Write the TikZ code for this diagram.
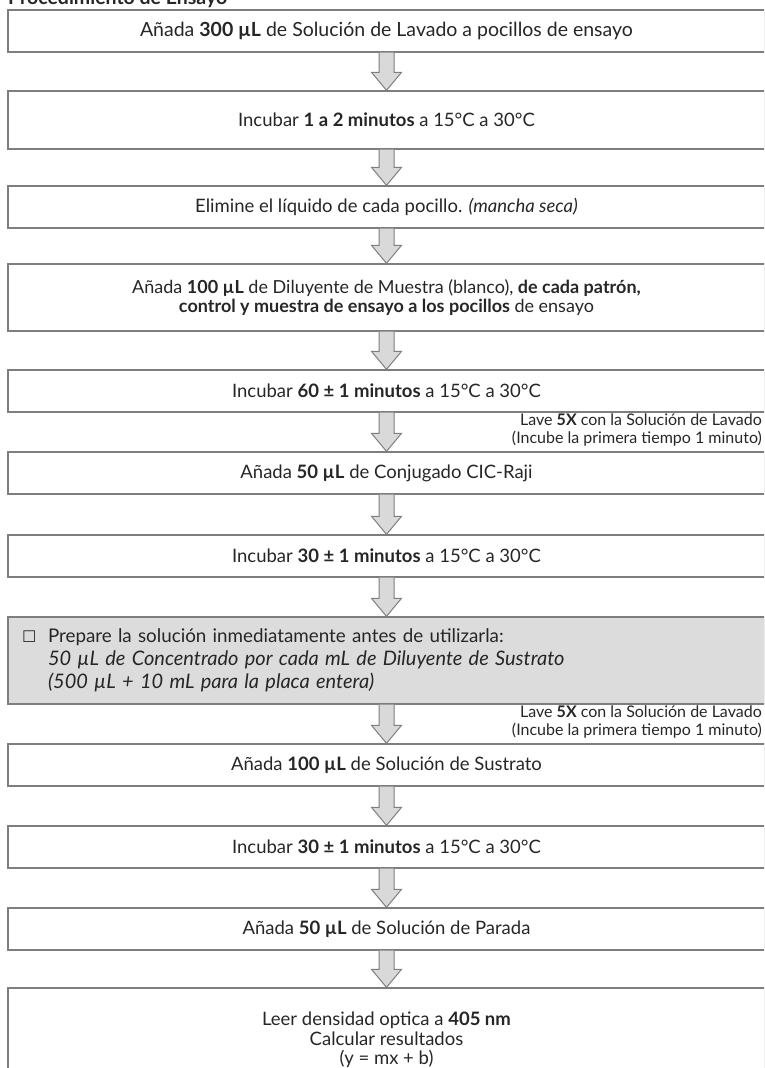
\documentclass[tikz,border=0pt]{standalone}
\usepackage{fontspec}
\setmainfont{Lato}
\newfontfamily\boxsym{DejaVu Sans}
\usetikzlibrary{calc}
\definecolor{ink}{HTML}{262626}
\definecolor{edgegray}{HTML}{7E7E7E}
\definecolor{arrowfill}{HTML}{D9D9D9}
\definecolor{notefill}{HTML}{DCDCDC}
\begin{document}
\begin{tikzpicture}[x=1pt,y=-1pt,
  stepbox/.style={draw=edgegray,line width=1.3pt,rectangle,minimum width=757pt,
    inner sep=0pt,align=center,text=ink,font=\fontsize{18.5}{19.5}\selectfont},
  notebox/.style={stepbox,fill=notefill,align=left,text width=729pt,inner xsep=14pt},
  sidenote/.style={anchor=north east,inner sep=0pt,align=right,text=ink,
    font=\fontsize{16}{18}\selectfont},
  flowarrow/.style={draw=edgegray,fill=arrowfill,line width=1pt,line join=miter}]
\clip (0,0) rectangle (764,1068);
\node[anchor=base west,inner sep=0pt,text=ink,font=\fontsize{19.5}{22}\selectfont\bfseries] (title) at (8,5) {Procedimiento de Ensayo};

\node[stepbox,minimum height=42pt,font=\fontsize{19.5}{21}\selectfont] (b1) at (386.5,31) {Añada \textbf{300 µL} de Solución de Lavado a pocillos de ensayo};
\node[stepbox,minimum height=58pt] (b2) at (386.5,120) {Incubar \textbf{1 a 2 minutos} a 15°C a 30°C};
\node[stepbox,minimum height=42pt] (b3) at (386.5,207) {Elimine el líquido de cada pocillo. \textit{(mancha seca)}};
\node[stepbox,minimum height=67pt,font=\fontsize{18}{19.5}\selectfont] (b4) at (386.5,297.5) {Añada \textbf{100 µL} de Diluyente de Muestra (blanco), \textbf{de cada patrón,}\\
  \textbf{control y muestra de ensayo a los pocillos} de ensayo};
\node[stepbox,minimum height=42pt] (b5) at (386.5,391) {Incubar \textbf{60 ± 1 minutos} a 15°C a 30°C};
\node[stepbox,minimum height=42pt] (b6) at (386.5,473) {Añada \textbf{50 µL} de Conjugado CIC-Raji};
\node[stepbox,minimum height=42pt] (b7) at (386.5,556) {Incubar \textbf{30 ± 1 minutos} a 15°C a 30°C};
\node[notebox,minimum height=87pt,font=\fontsize{18.8}{23}\selectfont] (b8) at (386.5,660.5) {\makebox[26pt][l]{\boxsym\fontsize{16}{16}\selectfont ☐}Prepare la solución inmediatamente antes de utilizarla:\\
  \hspace*{26pt}{\fontsize{20}{23}\selectfont\itshape 50 µL de Concentrado por cada mL de Diluyente de Sustrato}\\
  \hspace*{26pt}{\fontsize{20}{23}\selectfont\itshape (500 µL + 10 mL para la placa entera)}};
\node[stepbox,minimum height=42pt] (b9) at (386.5,765) {Añada \textbf{100 µL} de Solución de Sustrato};
\node[stepbox,minimum height=42pt] (b10) at (386.5,847) {Incubar \textbf{30 ± 1 minutos} a 15°C a 30°C};
\node[stepbox,minimum height=42pt] (b11) at (386.5,929) {Añada \textbf{50 µL} de Solución de Parada};
\node[stepbox,minimum height=104pt] (b12) at (386.5,1040) {Leer densidad optica a \textbf{405 nm}\\
  Calcular resultados\\
  (y = mx + b)};

\node[sidenote] (w1) at (762,414) {Lave \textbf{5X} con la Solución de Lavado\\(Incube la primera tiempo 1 minuto)};
\node[sidenote] (w2) at (762,706) {Lave \textbf{5X} con la Solución de Lavado\\(Incube la primera tiempo 1 minuto)};

\foreach \a/\b in {b1/b2,b2/b3,b3/b4,b4/b5,b5/b6,b6/b7,b7/b8,b8/b9,b9/b10,b10/b11,b11/b12}
  \filldraw[flowarrow] ($(\a.south)+(-7.5,0)$) -- ($(\b.north)+(-7.5,-18)$) -- ($(\b.north)+(-15,-18)$)
    -- (\b.north) -- ($(\b.north)+(15,-18)$) -- ($(\b.north)+(7.5,-18)$) -- ($(\a.south)+(7.5,0)$);
\end{tikzpicture}
\end{document}
